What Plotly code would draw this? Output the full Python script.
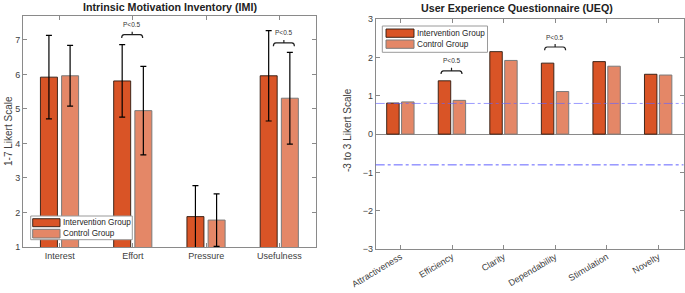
import plotly.graph_objects as go

W, H = 685, 293

# ---------------- data ----------------
imi_categories = ["Interest", "Effort", "Pressure", "Usefulness"]
imi_intervention = [5.92, 5.81, 1.88, 5.96]
imi_intervention_err = [1.21, 1.05, 0.90, 1.31]
imi_control = [5.96, 4.95, 1.78, 5.31]
imi_control_err = [0.88, 1.28, 0.76, 1.33]
imi_yticks = [1, 2, 3, 4, 5, 6, 7]

ueq_categories = ["Attractiveness", "Efficiency", "Clarity", "Dependability", "Stimulation", "Novelty"]
ueq_intervention = [0.81, 1.39, 2.15, 1.85, 1.89, 1.56]
ueq_control = [0.84, 0.88, 1.92, 1.11, 1.77, 1.54]
ueq_yticks = [-3, -2, -1, 0, 1, 2, 3]
ueq_ref_lines = [0.8, -0.8]

# significance brackets: (category index, bracket height)
imi_sig = [(1, 7.15), (3, 6.91)]
ueq_sig = [(1, 1.65), (3, 2.27)]
sig_label = "P<0.5"

legend_names = ["Intervention Group", "Control Group"]

# ---------------- styles ----------------
C_INT = "#D95426"
C_CTRL = "#E48767"
EDGE_INT = "rgba(45,25,15,0.9)"
EDGE_CTRL = "#7a7a7a"
AX = "#8a8a8a"
TXT = "#404040"
FONT = "Liberation Sans"
imi_sig_xshift = [-0.7, 4.5]
ueq_sig_xshift = [-0.5, 0.0]
ref_line_colors = ["rgba(100,100,255,0.65)", "rgba(70,70,255,0.85)"]


def px(x):
    return x / W


def py(y):
    return 1 - y / H


fig = go.Figure()

# IMI bars
fig.add_trace(go.Bar(x=list(range(len(imi_categories))), y=imi_intervention,
                     base=0, width=0.232, offset=-0.262,
                     marker=dict(color=C_INT, line=dict(color=EDGE_INT, width=1)),
                     error_y=dict(type="data", array=imi_intervention_err, color="black",
                                  thickness=1.2, width=3),
                     name=legend_names[0], showlegend=False, xaxis="x", yaxis="y"))
fig.add_trace(go.Bar(x=list(range(len(imi_categories))), y=imi_control,
                     base=0, width=0.232, offset=0.027,
                     marker=dict(color=C_CTRL, line=dict(color=EDGE_CTRL, width=1)),
                     error_y=dict(type="data", array=imi_control_err, color="black",
                                  thickness=1.2, width=3),
                     name=legend_names[1], showlegend=False, xaxis="x", yaxis="y"))

# UEQ bars
fig.add_trace(go.Bar(x=list(range(len(ueq_categories))), y=ueq_intervention,
                     width=0.242, offset=-0.267,
                     marker=dict(color=C_INT, line=dict(color=EDGE_INT, width=1)),
                     name=legend_names[0], showlegend=False, xaxis="x2", yaxis="y2"))
fig.add_trace(go.Bar(x=list(range(len(ueq_categories))), y=ueq_control,
                     width=0.242, offset=0.022,
                     marker=dict(color=C_CTRL, line=dict(color=EDGE_CTRL, width=1)),
                     name=legend_names[1], showlegend=False, xaxis="x2", yaxis="y2"))

shapes = []
annotations = []

# reference lines on UEQ
for v, col in zip(ueq_ref_lines, ref_line_colors):
    shapes.append(dict(type="line", xref="x2 domain", yref="y2", x0=0, x1=1, y0=v, y1=v,
                       line=dict(color=col, width=1, dash="dashdot"),
                       layer="above"))


def bracket_path(dx):
    return (f"M {dx-10.5},-3.3 Q {dx-10.5},0 {dx-8},0 L {dx+8},0 Q {dx+10.5},0 {dx+10.5},-3.3 "
            f"M {dx},0 L {dx},3")


# significance brackets
items = [(s, d, "x", "y") for s, d in zip(imi_sig, imi_sig_xshift)] + \
        [(s, d, "x2", "y2") for s, d in zip(ueq_sig, ueq_sig_xshift)]
for (ci, yb), dx, xr, yr in items:
    shapes.append(dict(type="path", xref=xr, yref=yr, xsizemode="pixel", ysizemode="pixel",
                       xanchor=ci, yanchor=yb, path=bracket_path(dx),
                       line=dict(color="#202020", width=1.2)))
    annotations.append(dict(x=ci, y=yb, xref=xr, yref=yr, text=sig_label, showarrow=False,
                            yshift=10, xshift=dx,
                            font=dict(size=6.5, color="#333333", family=FONT)))


# custom legends (pixel positions)
def legend(box, sw_x, sw_rows, text_x):
    x0, y0, x1, y1 = box
    shapes.append(dict(type="rect", xref="paper", yref="paper", x0=px(x0), x1=px(x1),
                       y0=py(y1), y1=py(y0), fillcolor="white",
                       line=dict(color="#9a9a9a", width=1), layer="above"))
    for (ya, yb), col, edge, name in zip(sw_rows, [C_INT, C_CTRL], [EDGE_INT, EDGE_CTRL], legend_names):
        shapes.append(dict(type="rect", xref="paper", yref="paper", x0=px(sw_x[0]), x1=px(sw_x[1]),
                           y0=py(yb), y1=py(ya), fillcolor=col,
                           line=dict(color=edge, width=1), layer="above"))
        annotations.append(dict(x=px(text_x), y=py((ya + yb) / 2), xref="paper", yref="paper",
                                xanchor="left", yanchor="middle", text=name, showarrow=False,
                                font=dict(size=8.2, color="#262626", family=FONT)))


legend((30.7, 216, 132.3, 239.7), (32.7, 60), [(218.7, 226.7), (229.3, 238)], 61)
legend((382.3, 26, 487.5, 52.3), (386, 414), [(29, 37.3), (40, 48.3)], 415)

# titles
annotations.append(dict(x=px(170), y=py(7), xref="paper", yref="paper", xanchor="center",
                        yanchor="middle", showarrow=False,
                        text="<b>Intrinsic Motivation Inventory (IMI)</b>",
                        font=dict(size=10.7, color="#222222", family=FONT)))
annotations.append(dict(x=px(517), y=py(8), xref="paper", yref="paper", xanchor="center",
                        yanchor="middle", showarrow=False,
                        text="<b>User Experience Questionnaire (UEQ)</b>",
                        font=dict(size=10.7, color="#222222", family=FONT)))
annotations.append(dict(x=px(8), y=py(131), xref="paper", yref="paper", xanchor="center",
                        yanchor="middle", showarrow=False, textangle=-90,
                        text="1-7 Likert Scale", font=dict(size=10, color=TXT, family=FONT)))
annotations.append(dict(x=px(348), y=py(130), xref="paper", yref="paper", xanchor="center",
                        yanchor="middle", showarrow=False, textangle=-90,
                        text="-3 to 3 Likert Scale", font=dict(size=10, color=TXT, family=FONT)))

axis_common = dict(showline=True, linecolor=AX, linewidth=1, mirror="ticks", ticks="inside",
                   ticklen=4, tickcolor=AX, showgrid=False, zeroline=False, automargin=False,
                   tickfont=dict(size=9, color=TXT, family=FONT))

fig.update_layout(
    width=W, height=H, margin=dict(l=0, r=0, t=0, b=0, pad=0, autoexpand=False),
    paper_bgcolor="white", plot_bgcolor="white",
    barmode="overlay", showlegend=False,
    font=dict(family=FONT),
    xaxis=dict(domain=[px(23), px(316)], range=[-0.5, 3.5], anchor="y",
               tickvals=list(range(len(imi_categories))), ticktext=imi_categories, **axis_common),
    yaxis=dict(domain=[py(247), py(15.7)], range=[1, 7.7], anchor="x",
               tickvals=imi_yticks, **axis_common),
    xaxis2=dict(domain=[px(375.7), px(683.5)], range=[-0.48, 5.49], anchor="y2",
                tickvals=list(range(len(ueq_categories))), ticktext=ueq_categories,
                tickangle=-31, ticklabelstandoff=-2, **axis_common),
    yaxis2=dict(domain=[py(249.3), py(19)], range=[-3, 3], anchor="x2",
                tickvals=ueq_yticks, **{**axis_common, "zeroline": True},
                zerolinecolor=AX, zerolinewidth=1),
    shapes=shapes, annotations=annotations,
)

fig.write_html("out.html",
               config={"displayModeBar": False, "staticPlot": True},
               post_script="document.body.style.margin='0';document.body.style.padding='0';"
                           "document.body.style.overflow='hidden';")
